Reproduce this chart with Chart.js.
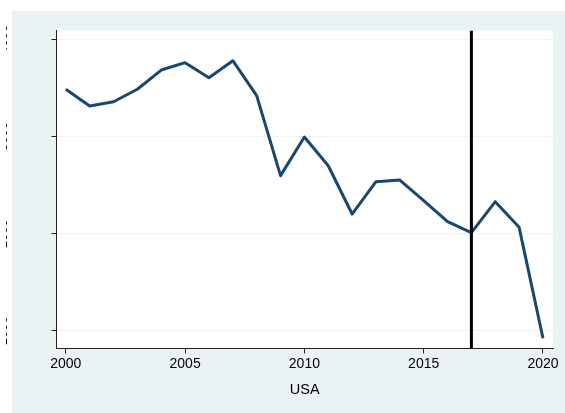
<!DOCTYPE html>
<html>
<head>
<meta charset="utf-8">
<script src="https://cdn.jsdelivr.net/npm/chart.js@4"></script>
<style>
  html, body { margin: 0; padding: 0; background: #ffffff; }
  #wrap { position: relative; width: 565px; height: 413px; overflow: hidden; }
  #chart { position: absolute; left: 6px; top: 0; }
</style>
</head>
<body>
<div id="wrap"><canvas id="chart" width="559" height="413"></canvas></div>
<script>
// ── Data ────────────────────────────────────────────────────────────────────
const years = [2000, 2001, 2002, 2003, 2004, 2005, 2006, 2007, 2008, 2009, 2010,
               2011, 2012, 2013, 2014, 2015, 2016, 2017, 2018, 2019, 2020];
const usaValues = [3486, 3314, 3358, 3486, 3684, 3760, 3605, 3780, 3420, 2597, 2995,
                   2699, 2202, 2535, 2552, 2341, 2123, 2010, 2329, 2065, 923];
const xTicks = [2000, 2005, 2010, 2015, 2020];
const yTicks = [1000, 2000, 3000, 4000];
const markerYear = 2017;
const countryName = 'USA';

const navy = '#1a476f';
const bgColor = '#eaf2f3';
const axisColor = '#222222';
const gridColor = '#eaf2f3';

Chart.defaults.font.family = "'Liberation Sans', Arial, sans-serif";
Chart.defaults.font.size = 14;
Chart.defaults.color = '#000000';

// grey outer region with white plot area on top
const backdrop = {
  id: 'backdrop',
  beforeDraw(chart) {
    const {ctx, chartArea} = chart;
    ctx.save();
    ctx.fillStyle = bgColor;
    ctx.fillRect(6, 11, chart.width - 6, chart.height - 11);
    ctx.fillStyle = '#ffffff';
    ctx.fillRect(chartArea.left, chartArea.top,
                 chartArea.right - chartArea.left, chartArea.bottom - chartArea.top);
    ctx.restore();
  }
};

const yMin = 818, yMax = 4091;

new Chart(document.getElementById('chart'), {
  type: 'line',
  data: {
    datasets: [
      {
        label: countryName,
        data: years.map((y, i) => ({x: y, y: usaValues[i]})),
        borderColor: navy,
        borderWidth: 3,
        pointRadius: 0,
        tension: 0,
        borderJoinStyle: 'round',
        order: 2
      },
      {
        label: 'marker',
        data: [{x: markerYear, y: yMin}, {x: markerYear, y: yMax}],
        borderColor: '#000000',
        borderWidth: 3,
        pointRadius: 0,
        order: 1
      }
    ]
  },
  options: {
    responsive: false,
    animation: false,
    layout: { padding: { top: 30.5, right: 12, left: 0, bottom: 0 } },
    plugins: {
      legend: { display: false },
      tooltip: { enabled: false }
    },
    scales: {
      x: {
        type: 'linear',
        min: 1999.61,
        max: 2020.42,
        afterBuildTicks: scale => { scale.ticks = xTicks.map(v => ({value: v})); },
        afterFit: scale => { scale.height = 64.5; scale.paddingLeft = 0; scale.paddingRight = 0; },
        ticks: {
          padding: 2.5,
          maxRotation: 0,
          autoSkip: false,
          callback: v => String(v)
        },
        grid: {
          drawOnChartArea: false,
          drawTicks: true,
          tickLength: 5,
          tickColor: axisColor
        },
        border: { display: true, color: axisColor, width: 1 },
        title: {
          display: true,
          text: countryName,
          font: { size: 14.5 },
          padding: { top: 0, bottom: 14.3 }
        }
      },
      y: {
        min: yMin,
        max: yMax,
        afterBuildTicks: scale => { scale.ticks = yTicks.map(v => ({value: v})); },
        afterFit: scale => { scale.width = 50.5; scale.paddingTop = 0; scale.paddingBottom = 0; },
        ticks: {
          minRotation: 90,
          maxRotation: 90,
          crossAlign: 'center',
          padding: 34,
          autoSkip: false,
          font: { size: 13 },
          callback: v => String(v)
        },
        grid: {
          color: gridColor,
          lineWidth: 1,
          drawTicks: true,
          tickLength: 5,
          tickColor: axisColor
        },
        border: { display: true, color: axisColor, width: 1 }
      }
    }
  },
  plugins: [backdrop]
});
</script>
</body>
</html>
